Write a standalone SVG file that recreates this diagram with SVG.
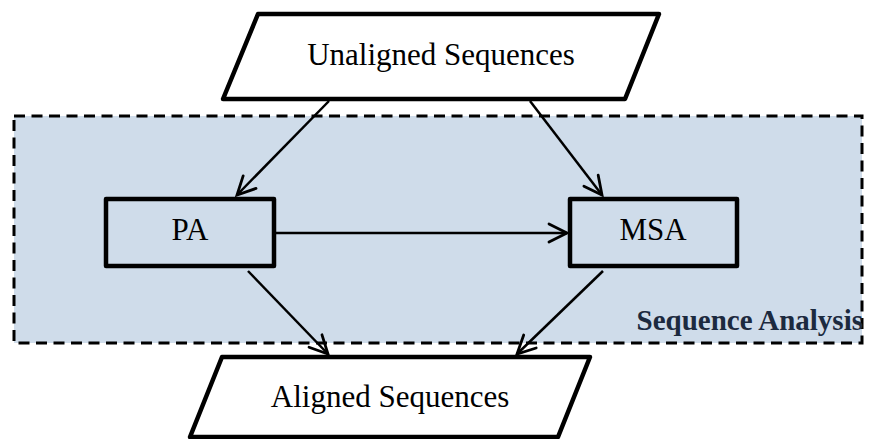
<svg xmlns="http://www.w3.org/2000/svg" width="874" height="439" viewBox="0 0 874 439">
<defs>
<style>
.shape{fill:#ffffff;stroke:#000000;stroke-width:4.5;stroke-linejoin:round}
.box{fill:#cfdcea;stroke:#000000;stroke-width:4.5;stroke-linejoin:round}
.lbl{font-family:"Liberation Serif","Times New Roman",serif;font-size:31px;fill:#000000;text-anchor:middle}
.conn{fill:none;stroke:#000000;stroke-width:2.5;marker-end:url(#arr)}
</style>
<marker id="arr" markerUnits="userSpaceOnUse" markerWidth="24" markerHeight="24" viewBox="-20 -12 24 24" refX="0" refY="0" orient="auto">
<path d="M-18,-9 L0,0 L-18,9" fill="none" stroke="#000000" stroke-width="2.8" stroke-linecap="round" stroke-linejoin="miter"/>
</marker>
</defs>
<g id="sequence-analysis">
<rect x="14" y="116" width="848" height="227" fill="#cfdcea" stroke="#000000" stroke-width="3" stroke-dasharray="11,6.5"/>
<text x="863" y="330" font-family="'Liberation Serif','Times New Roman',serif" font-size="29" font-weight="bold" fill="#1c2a3f" text-anchor="end">Sequence Analysis</text>
</g>
<g id="unaligned">
<polygon class="shape" points="258,14 659,14 625,99 223,99"/>
<text class="lbl" x="441" y="65">Unaligned Sequences</text>
</g>
<g id="pa">
<rect class="box" x="106" y="199" width="168" height="67"/>
<text class="lbl" x="190" y="240">PA</text>
</g>
<g id="msa">
<rect class="box" x="570" y="199" width="167" height="67"/>
<text class="lbl" x="653" y="240">MSA</text>
</g>
<g id="aligned">
<polygon class="shape" points="222,357 590,357 558,437 190,437"/>
<text class="lbl" x="390" y="407">Aligned Sequences</text>
</g>
<g id="connectors">
<line class="conn" x1="329" y1="101" x2="237" y2="195"/>
<line class="conn" x1="530" y1="101" x2="602" y2="195"/>
<line class="conn" x1="276" y1="233" x2="567" y2="233"/>
<line class="conn" x1="248" y1="271" x2="328" y2="354"/>
<line class="conn" x1="603" y1="271" x2="517" y2="354"/>
</g>
</svg>
